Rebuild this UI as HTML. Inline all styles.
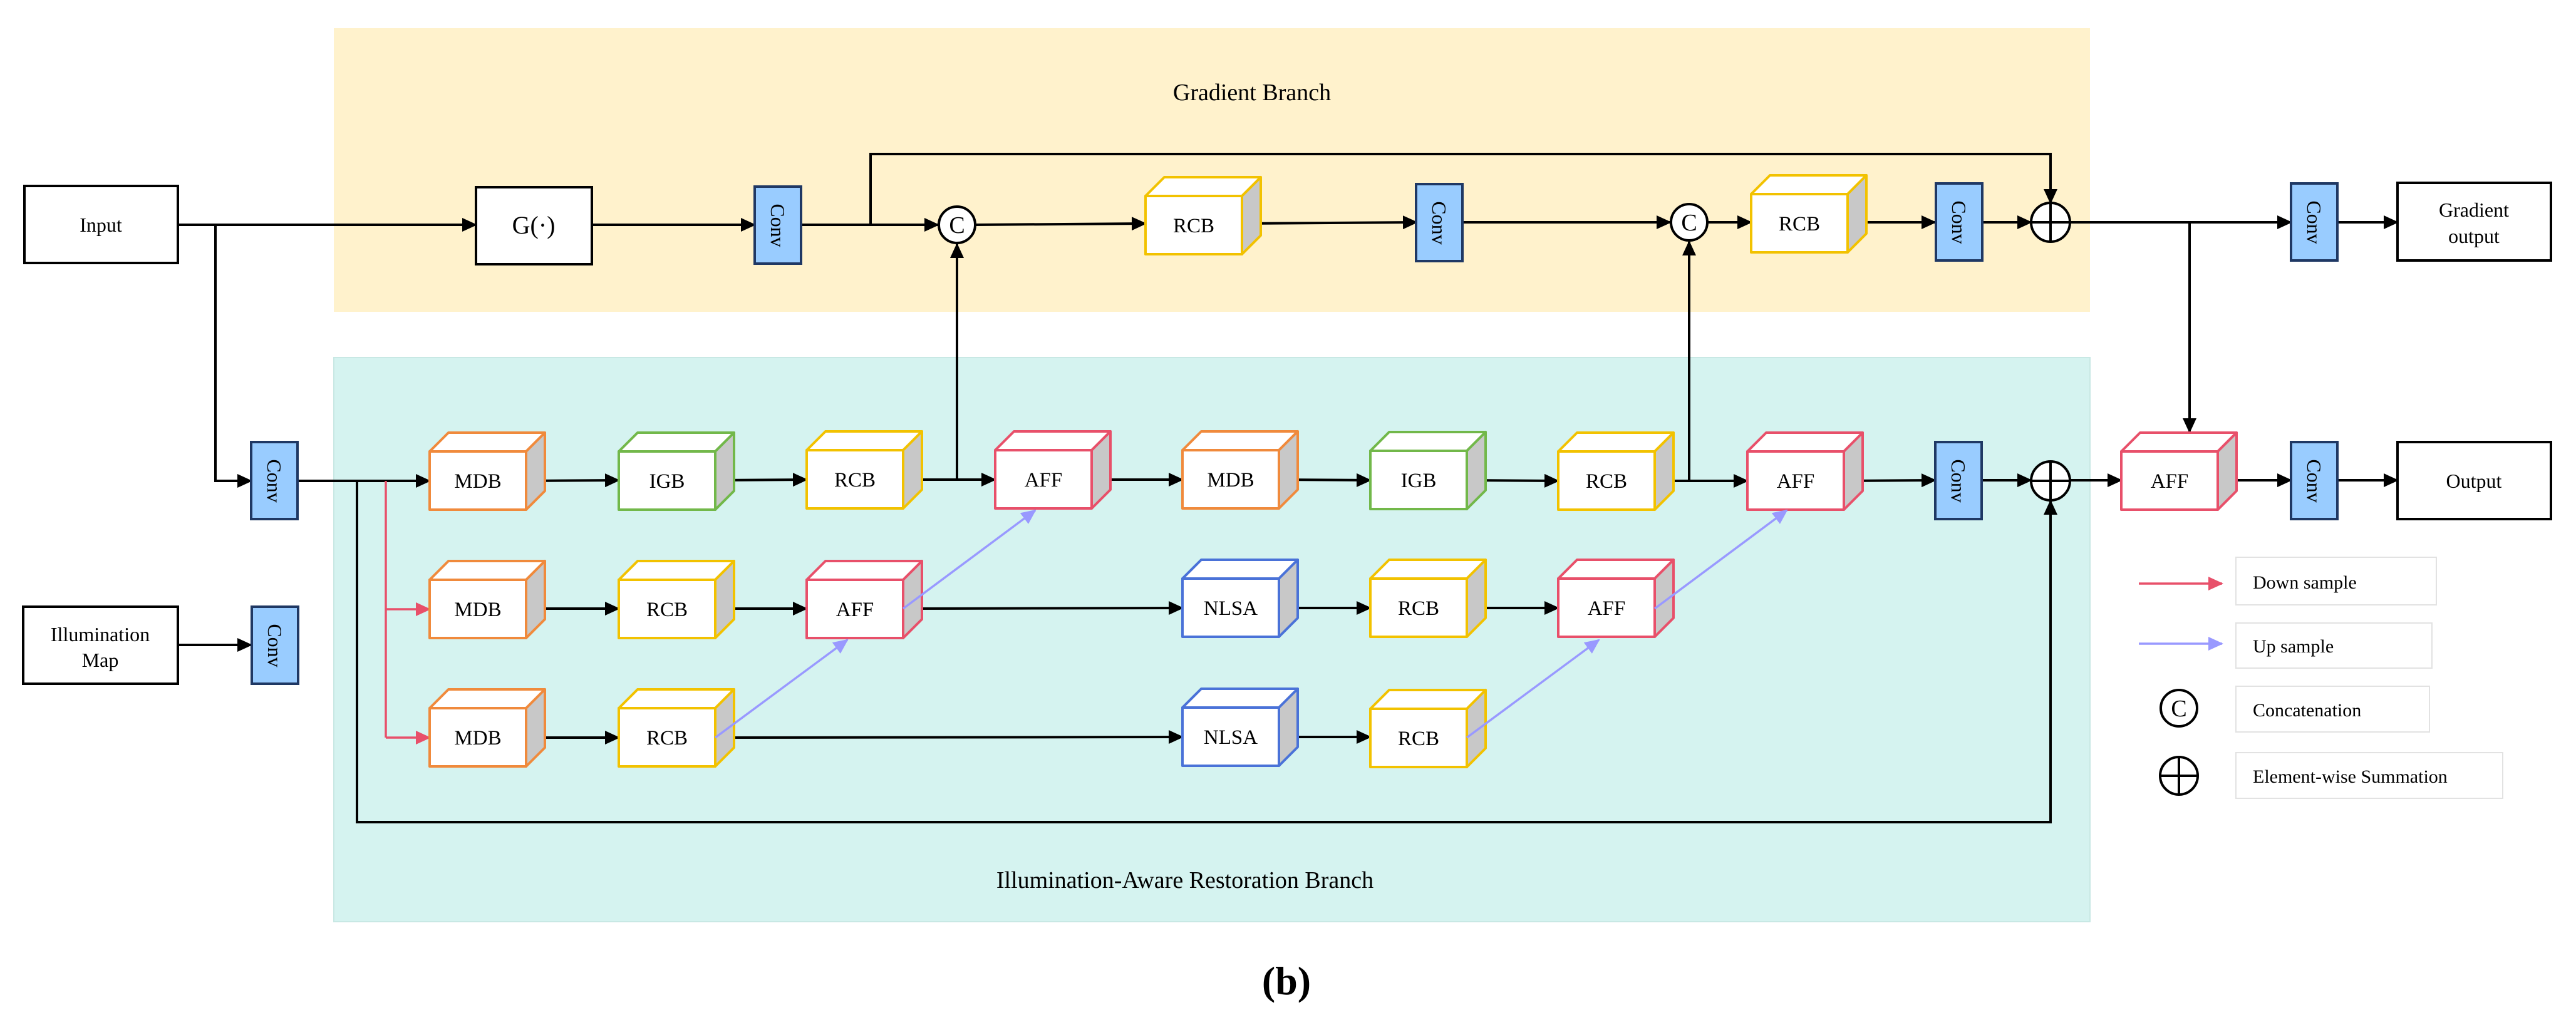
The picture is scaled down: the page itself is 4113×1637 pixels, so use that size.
<!DOCTYPE html>
<html><head><meta charset="utf-8"><style>
html,body{margin:0;padding:0;background:#fff}
svg{display:block}
text{font-family:"Liberation Serif",serif;fill:#000}
</style></head><body>
<svg width="4113" height="1637" viewBox="0 0 4113 1637" xmlns="http://www.w3.org/2000/svg">
<defs>
<marker id="ab" markerUnits="userSpaceOnUse" markerWidth="24" markerHeight="22" refX="22" refY="11" orient="auto"><path d="M0,0 L24,11 L0,22 z" fill="#000"/></marker>
<marker id="ar" markerUnits="userSpaceOnUse" markerWidth="24" markerHeight="22" refX="22" refY="11" orient="auto"><path d="M0,0 L24,11 L0,22 z" fill="#E8506A"/></marker>
<marker id="ap" markerUnits="userSpaceOnUse" markerWidth="24" markerHeight="22" refX="22" refY="11" orient="auto"><path d="M0,0 L24,11 L0,22 z" fill="#9999FF"/></marker>
<g id="cube" stroke="currentColor" stroke-width="4" stroke-linejoin="round">
<polygon points="0,0 30,-30 184,-30 154,0" fill="#fff"/>
<polygon points="154,0 184,-30 184,63 154,93" fill="#c8c8c8"/>
<rect width="154" height="93" fill="#fff"/>
</g>
<rect id="conv" width="74" height="123" fill="#99CCFF" stroke="#1F3864" stroke-width="4"/>
</defs>
<rect x="533" y="45" width="2804" height="453" fill="#FFF2CC"/>
<rect x="533" y="571" width="2804" height="901" fill="#D5F3F0" stroke="#c8e8e4" stroke-width="2"/>
<text x="1999" y="160" font-size="38" text-anchor="middle">Gradient Branch</text>
<text x="1892" y="1418" font-size="38" text-anchor="middle">Illumination-Aware Restoration Branch</text>
<text x="2054" y="1588" font-size="64" font-weight="bold" text-anchor="middle">(b)</text>

<g stroke="#000" stroke-width="4" fill="none">
<line x1="284" y1="359" x2="760" y2="359" marker-end="url(#ab)"/>
<line x1="945" y1="359" x2="1205" y2="359" marker-end="url(#ab)"/>
<line x1="1280" y1="359" x2="1498" y2="359" marker-end="url(#ab)"/>
<line x1="1558" y1="359" x2="1829" y2="357" marker-end="url(#ab)"/>
<line x1="1983" y1="357" x2="2262" y2="355" marker-end="url(#ab)"/>
<line x1="2336" y1="355" x2="2667" y2="355" marker-end="url(#ab)"/>
<line x1="2727" y1="355" x2="2796" y2="355" marker-end="url(#ab)"/>
<line x1="2950" y1="355" x2="3090" y2="355" marker-end="url(#ab)"/>
<line x1="3166" y1="355" x2="3243" y2="355" marker-end="url(#ab)"/>
<line x1="3305" y1="355" x2="3658" y2="355" marker-end="url(#ab)"/>
<line x1="3731" y1="355" x2="3828" y2="355" marker-end="url(#ab)"/>
<polyline points="1390,359 1390,246 3274,246 3274,324" marker-end="url(#ab)"/>
<line x1="3496" y1="355" x2="3496" y2="690" marker-end="url(#ab)"/>
<line x1="1528" y1="768" x2="1528" y2="390" marker-end="url(#ab)"/>
<line x1="2697" y1="768" x2="2697" y2="386" marker-end="url(#ab)"/>
<polyline points="344,359 344,768 401,768" marker-end="url(#ab)"/>
<line x1="284" y1="1030" x2="401" y2="1030" marker-end="url(#ab)"/>
<line x1="476" y1="768" x2="686" y2="768" marker-end="url(#ab)"/>
<polyline points="570,768 570,1313 3274,1313 3274,800" marker-end="url(#ab)"/>
<line x1="840" y1="768" x2="988" y2="767" marker-end="url(#ab)"/>
<line x1="1142" y1="767" x2="1288" y2="766" marker-end="url(#ab)"/>
<line x1="1442" y1="766" x2="1589" y2="766" marker-end="url(#ab)"/>
<line x1="1743" y1="766" x2="1888" y2="766" marker-end="url(#ab)"/>
<line x1="2042" y1="766" x2="2188" y2="767" marker-end="url(#ab)"/>
<line x1="2342" y1="767" x2="2488" y2="768" marker-end="url(#ab)"/>
<line x1="2642" y1="768" x2="2790" y2="768" marker-end="url(#ab)"/>
<line x1="2944" y1="768" x2="3090" y2="767" marker-end="url(#ab)"/>
<line x1="3165" y1="767" x2="3243" y2="767" marker-end="url(#ab)"/>
<line x1="3305" y1="767" x2="3387" y2="767" marker-end="url(#ab)"/>
<line x1="3541" y1="767" x2="3658" y2="767" marker-end="url(#ab)"/>
<line x1="3731" y1="767" x2="3828" y2="767" marker-end="url(#ab)"/>
<line x1="840" y1="972" x2="988" y2="972" marker-end="url(#ab)"/>
<line x1="1142" y1="972" x2="1288" y2="972" marker-end="url(#ab)"/>
<line x1="1442" y1="972" x2="1888" y2="971" marker-end="url(#ab)"/>
<line x1="2042" y1="971" x2="2188" y2="971" marker-end="url(#ab)"/>
<line x1="2342" y1="971" x2="2488" y2="971" marker-end="url(#ab)"/>
<line x1="840" y1="1178" x2="988" y2="1178" marker-end="url(#ab)"/>
<line x1="1142" y1="1178" x2="1888" y2="1177" marker-end="url(#ab)"/>
<line x1="2042" y1="1177" x2="2188" y2="1177" marker-end="url(#ab)"/>
</g>
<g stroke="#E8506A" stroke-width="3.5" fill="none">
<line x1="616" y1="768" x2="616" y2="1178"/>
<line x1="616" y1="973" x2="686" y2="973" marker-end="url(#ar)"/>
<line x1="616" y1="1178" x2="686" y2="1178" marker-end="url(#ar)"/>
<line x1="3415" y1="932" x2="3548" y2="932" marker-end="url(#ar)"/>
</g>

<!-- boxes -->
<g stroke="#000" stroke-width="4" fill="#fff">
<rect x="39" y="297" width="245" height="123"/>
<rect x="760" y="299" width="185" height="123"/>
<rect x="37" y="969" width="247" height="123"/>
<rect x="3828" y="292" width="245" height="124"/>
<rect x="3828" y="706" width="245" height="123"/>
</g>
<text x="161" y="370" font-size="32" text-anchor="middle">Input</text>
<text x="852" y="373" font-size="40" text-anchor="middle">G(·)</text>
<text x="160" y="1024" font-size="32" text-anchor="middle">Illumination</text>
<text x="160" y="1065" font-size="32" text-anchor="middle">Map</text>
<text x="3950" y="346" font-size="32" text-anchor="middle">Gradient</text>
<text x="3950" y="388" font-size="32" text-anchor="middle">output</text>
<text x="3950" y="779" font-size="32" text-anchor="middle">Output</text>

<!-- conv boxes -->
<use href="#conv" x="1205" y="298"/>
<use href="#conv" x="2261" y="294"/>
<use href="#conv" x="3091" y="293"/>
<use href="#conv" x="3658" y="293"/>
<use href="#conv" x="401" y="706"/>
<use href="#conv" x="402" y="969"/>
<use href="#conv" x="3090" y="706"/>
<use href="#conv" x="3658" y="706"/>
<g font-size="32">
<text transform="translate(1242,360) rotate(90)" text-anchor="middle" dominant-baseline="central">Conv</text>
<text transform="translate(2298,356) rotate(90)" text-anchor="middle" dominant-baseline="central">Conv</text>
<text transform="translate(3128,355) rotate(90)" text-anchor="middle" dominant-baseline="central">Conv</text>
<text transform="translate(3695,355) rotate(90)" text-anchor="middle" dominant-baseline="central">Conv</text>
<text transform="translate(438,768) rotate(90)" text-anchor="middle" dominant-baseline="central">Conv</text>
<text transform="translate(439,1031) rotate(90)" text-anchor="middle" dominant-baseline="central">Conv</text>
<text transform="translate(3127,768) rotate(90)" text-anchor="middle" dominant-baseline="central">Conv</text>
<text transform="translate(3695,768) rotate(90)" text-anchor="middle" dominant-baseline="central">Conv</text>
</g>

<!-- cubes -->
<use href="#cube" x="1829" y="313" style="color:#F2C200"/>
<use href="#cube" x="2796" y="310" style="color:#F2C200"/>
<use href="#cube" x="686" y="721" style="color:#F08A3C"/>
<use href="#cube" x="988" y="721" style="color:#72B84A"/>
<use href="#cube" x="1288" y="719" style="color:#F2C200"/>
<use href="#cube" x="1589" y="719" style="color:#E8506A"/>
<use href="#cube" x="1888" y="719" style="color:#F08A3C"/>
<use href="#cube" x="2188" y="720" style="color:#72B84A"/>
<use href="#cube" x="2488" y="721" style="color:#F2C200"/>
<use href="#cube" x="2790" y="721" style="color:#E8506A"/>
<use href="#cube" x="3387" y="721" style="color:#E8506A"/>
<use href="#cube" x="686" y="926" style="color:#F08A3C"/>
<use href="#cube" x="988" y="926" style="color:#F2C200"/>
<use href="#cube" x="1288" y="926" style="color:#E8506A"/>
<use href="#cube" x="1888" y="924" style="color:#4A72D8"/>
<use href="#cube" x="2188" y="924" style="color:#F2C200"/>
<use href="#cube" x="2488" y="924" style="color:#E8506A"/>
<use href="#cube" x="686" y="1131" style="color:#F08A3C"/>
<use href="#cube" x="988" y="1131" style="color:#F2C200"/>
<use href="#cube" x="1888" y="1130" style="color:#4A72D8"/>
<use href="#cube" x="2188" y="1132" style="color:#F2C200"/>

<g font-size="33" text-anchor="middle">
<text x="1906" y="371">RCB</text>
<text x="2873" y="368">RCB</text>
<text x="763" y="779">MDB</text>
<text x="1065" y="779">IGB</text>
<text x="1365" y="777">RCB</text>
<text x="1666" y="777">AFF</text>
<text x="1965" y="777">MDB</text>
<text x="2265" y="778">IGB</text>
<text x="2565" y="779">RCB</text>
<text x="2867" y="779">AFF</text>
<text x="3464" y="779">AFF</text>
<text x="763" y="984">MDB</text>
<text x="1065" y="984">RCB</text>
<text x="1365" y="984">AFF</text>
<text x="1965" y="982">NLSA</text>
<text x="2265" y="982">RCB</text>
<text x="2565" y="982">AFF</text>
<text x="763" y="1189">MDB</text>
<text x="1065" y="1189">RCB</text>
<text x="1965" y="1188">NLSA</text>
<text x="2265" y="1190">RCB</text>
</g>

<!-- up sample -->
<g stroke="#9999FF" stroke-width="3.5" fill="none">
<line x1="1142" y1="1178" x2="1353" y2="1022" marker-end="url(#ap)"/>
<line x1="1442" y1="972" x2="1653" y2="815" marker-end="url(#ap)"/>
<line x1="2342" y1="1178" x2="2553" y2="1022" marker-end="url(#ap)"/>
<line x1="2642" y1="972" x2="2853" y2="815" marker-end="url(#ap)"/>
<line x1="3415" y1="1028" x2="3548" y2="1028" marker-end="url(#ap)"/>
</g>

<!-- circles -->
<g stroke="#000" stroke-width="4" fill="#fff">
<circle cx="1528" cy="359" r="29"/>
<circle cx="2697" cy="355" r="29"/>
<circle cx="3274" cy="355" r="31"/>
<circle cx="3274" cy="768" r="31"/>
<circle cx="3479" cy="1131" r="29"/>
<circle cx="3479" cy="1239" r="30"/>
<path d="M3243,355 H3305 M3274,324 V386 M3243,768 H3305 M3274,737 V799 M3449,1239 H3509 M3479,1209 V1269" fill="none"/>
</g>
<g font-size="38" text-anchor="middle">
<text x="1528" y="372">C</text>
<text x="2697" y="368">C</text>
<text x="3479" y="1144">C</text>
</g>

<!-- legend boxes -->
<g fill="#fff" stroke="#e2e2e2" stroke-width="2">
<rect x="3570" y="890" width="320" height="76"/>
<rect x="3570" y="995" width="313" height="72"/>
<rect x="3570" y="1096" width="309" height="73"/>
<rect x="3570" y="1202" width="426" height="73"/>
</g>
<g font-size="30">
<text x="3597" y="940">Down sample</text>
<text x="3597" y="1042">Up sample</text>
<text x="3597" y="1144">Concatenation</text>
<text x="3597" y="1250">Element-wise Summation</text>
</g>
</svg>
</body></html>
